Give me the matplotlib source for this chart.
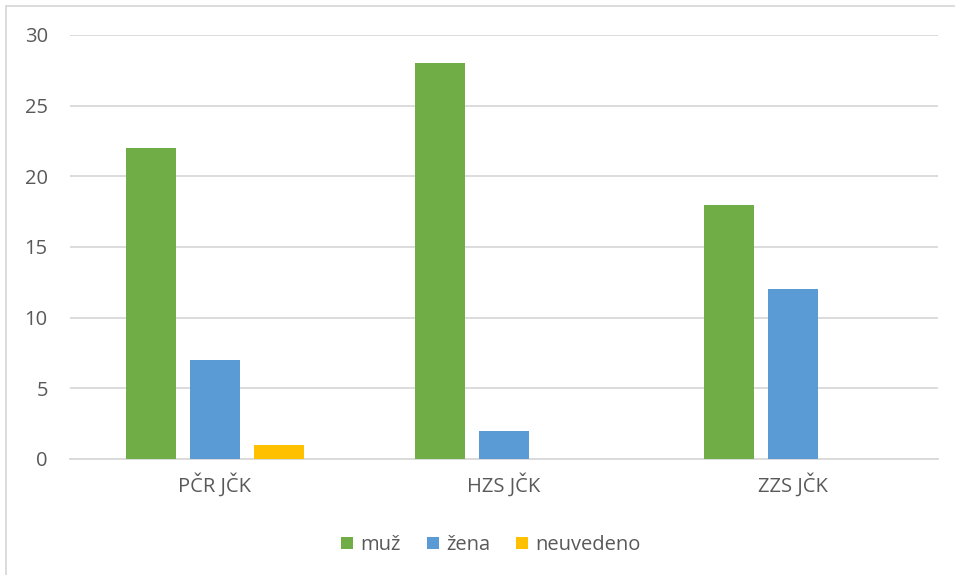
import numpy as np
import matplotlib.pyplot as plt
from matplotlib.patches import Rectangle

categories = ['PČR JČK', 'HZS JČK', 'ZZS JČK']
muz = [22, 28, 18]
zena = [7, 2, 12]
neuvedeno = [1, 0, 0]

series = [('muž', muz, '#70ad47'), ('žena', zena, '#5b9bd5'), ('neuvedeno', neuvedeno, '#ffc000')]

plt.rcParams['font.family'] = ['Open Sans', 'DejaVu Sans']

fig = plt.figure(figsize=(9.55, 5.75), dpi=100)
ax = fig.add_axes([70 / 955, 1 - 459 / 575, 868 / 955, 424 / 575])

x = np.arange(len(categories))
width = 0.173
offset = 0.221
for i, (name, vals, color) in enumerate(series):
    ax.bar(x + (i - 1) * offset, vals, width, color=color, label=name, zorder=3)

ax.set_xlim(-0.5, 2.5)
ax.set_ylim(0, 30)
ax.set_yticks(range(0, 31, 5))
ax.set_xticks(x)
ax.set_xticklabels(categories)
ax.grid(axis='y', color='#d9d9d9', linewidth=1.3, zorder=0)
for s in ['top', 'right', 'left']:
    ax.spines[s].set_visible(False)
ax.spines['bottom'].set_color('#d9d9d9')
ax.spines['bottom'].set_linewidth(1.3)
ax.tick_params(axis='both', length=0, labelsize=14.5, colors='#595959')
ax.tick_params(axis='y', pad=16)
ax.tick_params(axis='x', pad=10)

ax.legend(loc='center', bbox_to_anchor=(491 / 955, 1 - 545 / 575), bbox_transform=fig.transFigure,
          ncol=3, frameon=False, fontsize=14.5, labelcolor='#595959', handlelength=0.6,
          handleheight=0.6, handletextpad=0.35, columnspacing=1.3)

# chart border
fig.patches.append(Rectangle((6 / 955, -0.1), 1.2, 1 - 6 / 575 + 0.1, transform=fig.transFigure,
                             fill=False, edgecolor='#d9d9d9', linewidth=1.3))

fig.savefig('out.png', dpi=100)
